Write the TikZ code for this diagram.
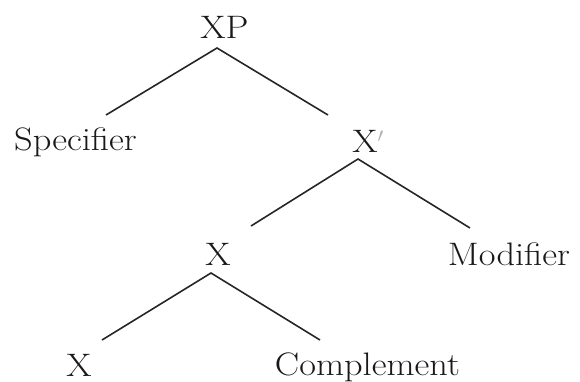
\documentclass[tikz,border=0pt]{standalone}
\usepackage{tikz}
\newcommand{\wideText}[1]{\scalebox{1.12}[1]{#1}}
\begin{document}
\begin{tikzpicture}[x=1pt,y=-1pt,
  lbl/.style={anchor=base,inner sep=0pt,font=\fontsize{32.5}{38}\selectfont,text=black!90},
  branch/.style={draw=black!85,line width=1.6pt}]
\useasboundingbox (0,0) rectangle (580,381);
% labels
\node[lbl] (xp)   at (224.5,38) {\wideText{XP}};
\node[lbl] (spec) at (75.5,150) {\wideText{Specifier}};
\node[lbl] (xbar) at (365,152) {\wideText{X}\rlap{\textcolor{black!30}{$'$}}};
\node[lbl] (xmid) at (218,265) {\wideText{X}};
\node[lbl] (mod)  at (509,265) {\wideText{Modifier}};
\node[lbl] (xlow) at (79,376) {\wideText{X}};
\node[lbl] (comp) at (367.5,375) {\wideText{Complement}};
% junction points
\coordinate (j1) at (217,48);
\coordinate (j1l) at (106,115);
\coordinate (j1r) at (328,115);
\coordinate (j2) at (358,159);
\coordinate (j2l) at (251,226);
\coordinate (j2r) at (470,228);
\coordinate (j3) at (211,273);
\coordinate (j3l) at (102,340);
\coordinate (j3r) at (320,340);
% branches
\draw[branch] (j1l) -- (j1) -- (j1r);
\draw[branch] (j2l) -- (j2) -- (j2r);
\draw[branch] (j3l) -- (j3) -- (j3r);
\end{tikzpicture}
\end{document}
